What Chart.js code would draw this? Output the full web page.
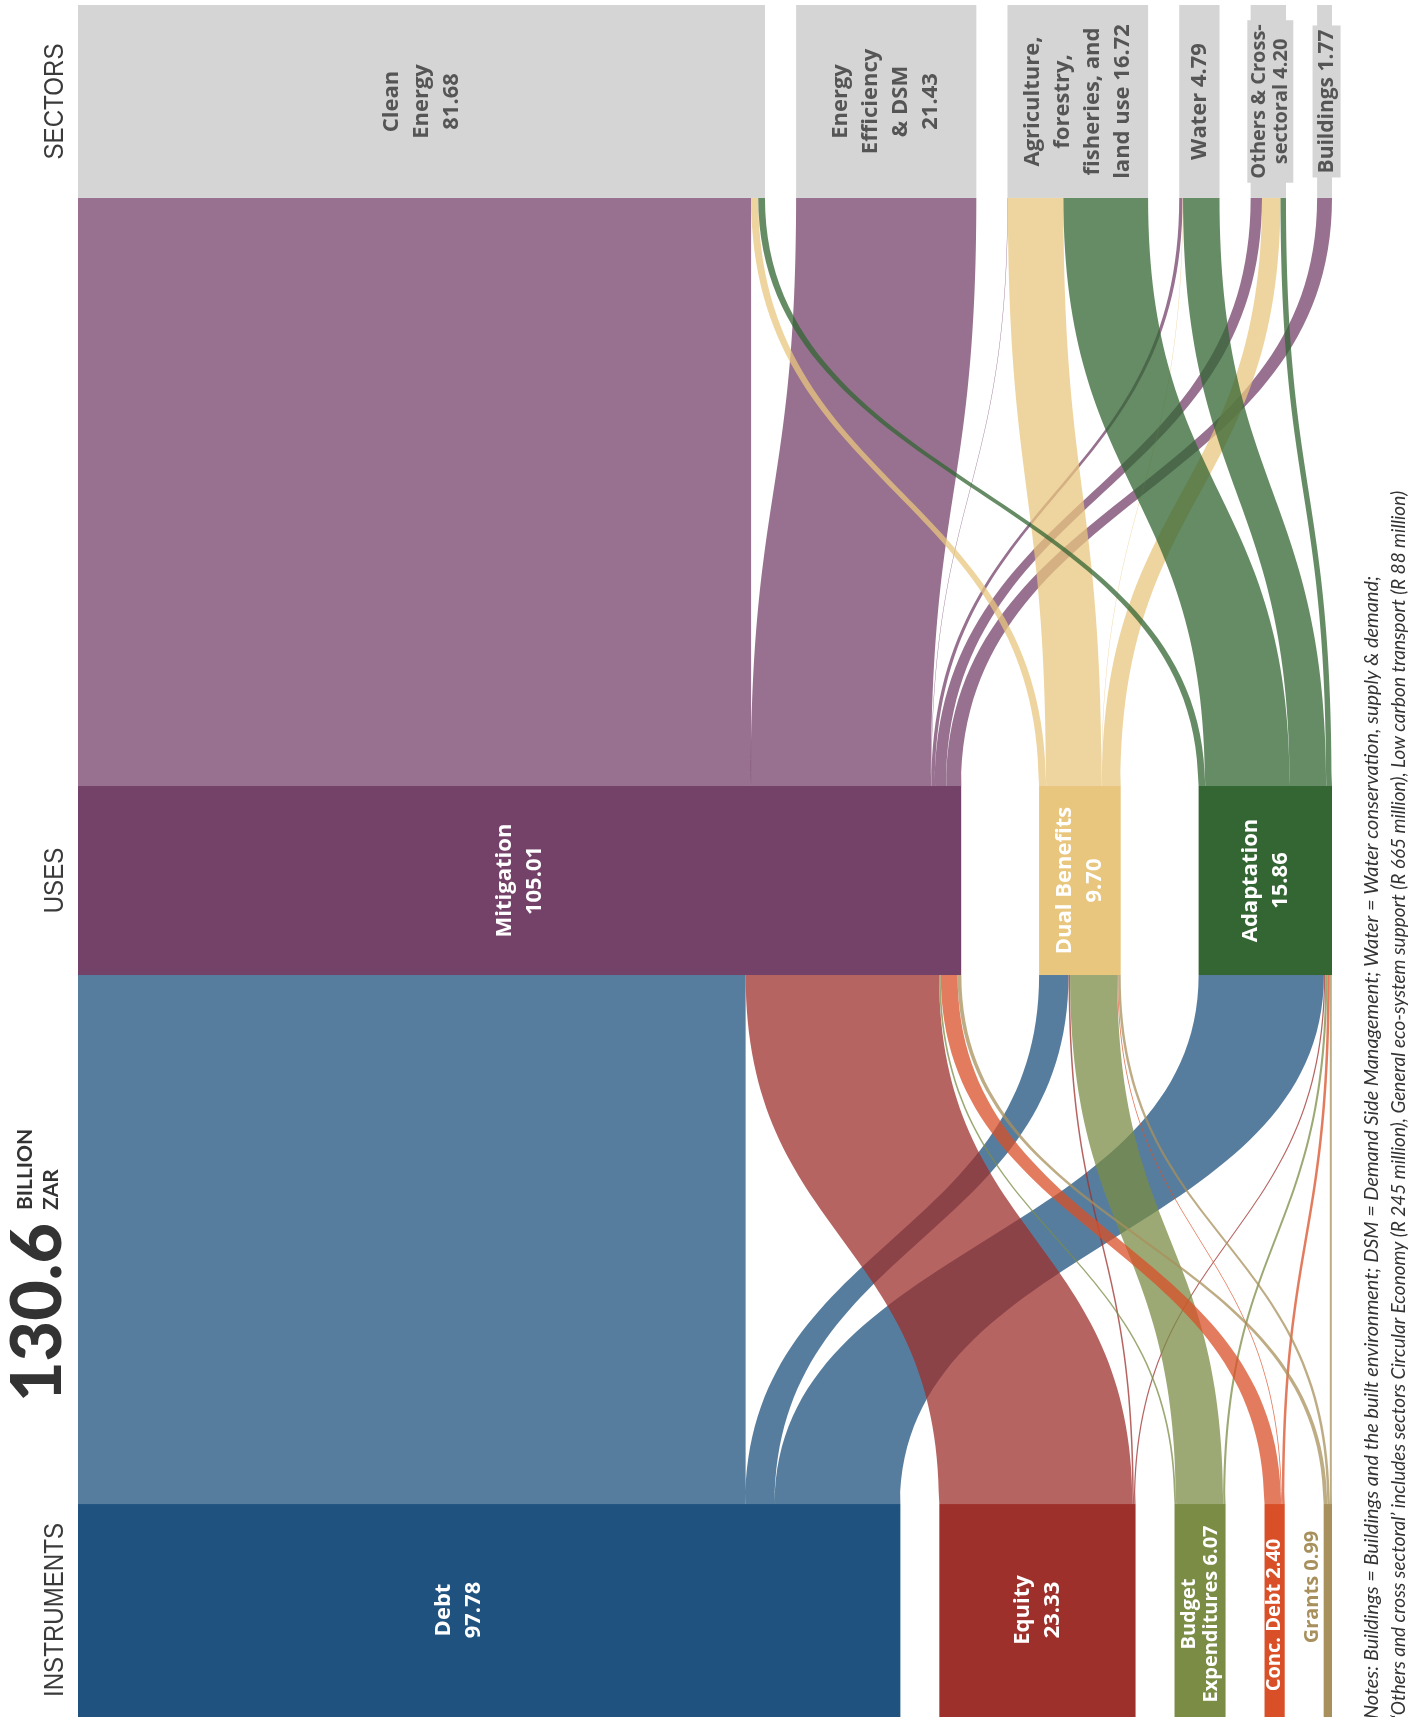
<!DOCTYPE html>
<html>
<head>
<meta charset="utf-8">
<title>Climate finance flows</title>
<script src="https://cdn.jsdelivr.net/npm/chart.js@4.4.1/dist/chart.umd.min.js"></script>
<style>
  html, body { margin: 0; padding: 0; background: #fff; }
  #wrap { position: relative; width: 1426px; height: 1717px; overflow: hidden; }
</style>
</head>
<body>
<div id="wrap"><canvas id="sankey" width="1426" height="1717"></canvas></div>
<script>
// --- data (billion ZAR) ---
const instruments = ['Debt', 'Equity', 'Budget Expenditures', 'Conc. Debt', 'Grants'];
const instrumentValues = [97.78, 23.33, 6.07, 2.40, 0.99];

const uses = ['Mitigation', 'Dual Benefits', 'Adaptation'];
const useValues = [105.01, 9.70, 15.86];

const sectors = ['Clean Energy', 'Energy Efficiency & DSM', 'Agriculture, forestry, fisheries, and land use',
                 'Water', 'Others & Cross-sectoral', 'Buildings'];
const sectorValues = [81.68, 21.43, 16.72, 4.79, 4.20, 1.77];

// instrument -> use  (Mitigation, Dual Benefits, Adaptation)
const fromDebt     = [79.38, 3.50, 14.90];
const fromEquity   = [23.00, 0.18, 0.15];
const fromBudget   = [0.20, 5.62, 0.25];
const fromConcDebt = [2.00, 0.10, 0.30];
const fromGrants   = [0.45, 0.30, 0.24];

// use -> sector  (Clean Energy, EE & DSM, Agriculture, Water, Others, Buildings)
const fromMitigation = [80.03, 21.43, 0.05, 0.40, 1.35, 1.77];
const fromDual       = [0.85, 0, 6.60, 0.05, 2.20, 0];
const fromAdaptation = [0.80, 0, 10.07, 4.34, 0.65, 0];

const stageLabels = ['SECTORS', 'USES', 'INSTRUMENTS'];
const totalValue = '130.6';

// label lines shown inside the nodes
const sectorLines = [['Clean', 'Energy'], ['Energy', 'Efficiency', '& DSM'], ['Agriculture,', 'forestry,', 'fisheries, and', 'land use'],
                     ['Water'], ['Others & Cross-', 'sectoral'], ['Buildings']];
const useLines = [['Mitigation'], ['Dual Benefits'], ['Adaptation']];
const instrumentLines = [['Debt'], ['Equity'], ['Budget', 'Expenditures'], ['Conc. Debt'], ['Grants']];

// --- layout / style ---
const X_MAX = 149.1;                 // value span incl. gaps
const BAND = {                       // y units (0..100, top to bottom)
  sector: [0, 11.27],
  use: [45.62, 56.66],
  instrument: [87.56, 101]
};
const instrumentColors = ['#1f527e', '#9e302c', '#7b8c45', '#d95028', '#a8905c'];
const useColors = ['#744169', '#e8c67e', '#336633'];
const sectorColor = '#d5d5d5';
const FLOW_ALPHA = 0.75;

function rgba(hex, a) {
  const n = parseInt(hex.slice(1), 16);
  return `rgba(${n >> 16},${(n >> 8) & 255},${n & 255},${a})`;
}

// spread nodes over the full width, equal gaps
function placeNodes(values) {
  const sum = values.reduce((a, b) => a + b, 0);
  const gap = (X_MAX - sum) / (values.length - 1);
  let x = 0;
  return values.map(v => {
    const node = { x0: x, x1: x + v, outPos: x, inPos: x };
    x += v + gap;
    return node;
  });
}

function buildLinks(srcNodes, tgtNodes, matrix, colors) {
  const links = [];
  matrix.forEach((row, i) => {
    row.forEach((v, j) => {
      if (!v) return;
      const s = srcNodes[i], t = tgtNodes[j];
      links.push({ s0: s.outPos, s1: s.outPos + v, t0: t.inPos, t1: t.inPos + v, color: colors[i] });
      s.outPos += v;
      t.inPos += v;
    });
  });
  return links;
}

function rotatedText(ctx, lines, cx, cy, font, lineH, color, bg) {
  ctx.save();
  ctx.translate(cx, cy);
  ctx.rotate(-Math.PI / 2);
  ctx.font = font;
  ctx.textAlign = 'center';
  ctx.textBaseline = 'middle';
  const h = lineH * lines.length;
  if (bg) {
    const w = Math.max(...lines.map(l => ctx.measureText(l).width));
    ctx.fillStyle = bg;
    ctx.fillRect(-w / 2 - 4, -h / 2 - 1, w + 8, h + 2);
  }
  ctx.fillStyle = color;
  lines.forEach((l, i) => ctx.fillText(l, 0, -h / 2 + lineH * (i + 0.5)));
  ctx.restore();
}

const sankeyPlugin = {
  id: 'sankey',
  afterDraw(chart) {
    const { ctx, scales: { x, y } } = chart;
    const px = v => x.getPixelForValue(v);
    const py = v => y.getPixelForValue(v);

    const instNodes = placeNodes(instrumentValues);
    const useNodes = placeNodes(useValues);
    const secNodes = placeNodes(sectorValues);

    const lowLinks = buildLinks(instNodes, useNodes,
      [fromDebt, fromEquity, fromBudget, fromConcDebt, fromGrants], instrumentColors);
    const highLinks = buildLinks(useNodes, secNodes,
      [fromMitigation, fromDual, fromAdaptation], useColors);

    function drawLinks(links, ySrc, yTgt) {
      const ys = py(ySrc), yt = py(yTgt), ym = (ys + yt) / 2;
      links.forEach(l => {
        ctx.beginPath();
        ctx.moveTo(px(l.s0), ys);
        ctx.bezierCurveTo(px(l.s0), ym, px(l.t0), ym, px(l.t0), yt);
        ctx.lineTo(px(l.t1), yt);
        ctx.bezierCurveTo(px(l.t1), ym, px(l.s1), ym, px(l.s1), ys);
        ctx.closePath();
        ctx.fillStyle = rgba(l.color, FLOW_ALPHA);
        ctx.fill();
      });
    }

    ctx.save();
    drawLinks(lowLinks, BAND.instrument[0], BAND.use[1]);
    drawLinks(highLinks, BAND.use[0], BAND.sector[1]);

    function drawNodes(nodes, band, colors) {
      nodes.forEach((n, i) => {
        ctx.fillStyle = Array.isArray(colors) ? colors[i] : colors;
        ctx.fillRect(px(n.x0), py(band[0]), px(n.x1) - px(n.x0), py(band[1]) - py(band[0]));
      });
    }
    drawNodes(secNodes, BAND.sector, sectorColor);
    drawNodes(useNodes, BAND.use, useColors);
    drawNodes(instNodes, BAND.instrument, instrumentColors);

    const mid = (n) => (px(n.x0) + px(n.x1)) / 2;

    // sector labels
    const secY = (py(BAND.sector[0]) + py(BAND.sector[1])) / 2;
    secNodes.forEach((n, i) => {
      const val = sectorValues[i].toFixed(2);
      let lines = sectorLines[i].slice();
      if (lines.length > 1 && i !== 4 && i !== 2) lines.push(val);
      else lines[lines.length - 1] += ' ' + val;
      if (i === 4) {
        rotatedText(ctx, lines, mid(n) + 2, secY, 'bold 20px "Open Sans"', 22, '#555', sectorColor);
      } else if (i === 5) {
        rotatedText(ctx, lines, mid(n) + 2, secY, 'bold 21px "Open Sans"', 26, '#555', sectorColor);
      } else {
        rotatedText(ctx, lines, mid(n), secY, 'bold 22px "Open Sans"', 30, '#555');
      }
    });

    // use labels
    const useY = (py(BAND.use[0]) + py(BAND.use[1])) / 2;
    useNodes.forEach((n, i) => {
      rotatedText(ctx, [...useLines[i], useValues[i].toFixed(2)], mid(n), useY,
        'bold 22px "Open Sans"', 30, '#fff');
    });

    // instrument labels
    const instY = 1610;
    instNodes.forEach((n, i) => {
      const val = instrumentValues[i].toFixed(2);
      if (i < 2) {
        rotatedText(ctx, [...instrumentLines[i], val], mid(n) - (i === 0 ? 30 : 0), instY,
          'bold 22px "Open Sans"', 30, '#fff');
      } else if (i === 2) {
        rotatedText(ctx, ['Budget', 'Expenditures ' + val], mid(n), instY + 4,
          'bold 20px "Open Sans"', 22, '#fff');
      } else if (i === 3) {
        rotatedText(ctx, [instrumentLines[i][0] + ' ' + val], mid(n), instY + 5,
          'bold 20px "Open Sans"', 22, '#fff');
      } else {
        rotatedText(ctx, [instrumentLines[i][0] + ' ' + val], mid(n) - 16, instY - 23,
          'bold 20px "Open Sans"', 22, instrumentColors[4]);
      }
    });

    // stage titles at the left (condensed look)
    const stageY = [secY, useY, instY];
    stageLabels.forEach((s, i) => {
      ctx.save();
      ctx.translate(55, stageY[i]);
      ctx.rotate(-Math.PI / 2);
      ctx.scale(0.86, 1);
      ctx.font = '28px "Liberation Sans", sans-serif';
      ctx.fillStyle = '#3a3a3a';
      ctx.textAlign = 'center';
      ctx.textBaseline = 'middle';
      ctx.fillText(s, 0, 0);
      ctx.restore();
    });

    // total
    ctx.save();
    ctx.translate(38, 1402);
    ctx.rotate(-Math.PI / 2);
    ctx.fillStyle = '#333';
    ctx.textBaseline = 'middle';
    ctx.textAlign = 'left';
    ctx.font = '900 70px Lato';
    ctx.fillText(totalValue, 0, 0);
    ctx.restore();
    ctx.save();
    ctx.translate(0, 1210);
    ctx.rotate(-Math.PI / 2);
    ctx.fillStyle = '#333';
    ctx.textBaseline = 'middle';
    ctx.textAlign = 'left';
    ctx.font = 'bold 21px Lato';
    ctx.fillText('BILLION', 0, 25);
    ctx.fillText('ZAR', 0, 51);
    ctx.restore();

    // notes
    ctx.save();
    ctx.translate(0, 1719);
    ctx.rotate(-Math.PI / 2);
    ctx.fillStyle = '#333';
    ctx.textBaseline = 'middle';
    ctx.textAlign = 'left';
    ctx.font = 'italic 19px Lato';
    ctx.fillText('\u2018Others and cross sectoral\u2019 includes sectors Circular Economy (R 245 million), General eco-system support (R 665 million), Low carbon transport (R 88 million)', 0, 1399);
    ctx.scale(1.048, 1);
    ctx.fillText('Notes: Buildings = Buildings and the built environment; DSM = Demand Side Management; Water = Water conservation, supply & demand;', 0, 1372);
    ctx.restore();

    ctx.restore();
  }
};

function start() {
  new Chart(document.getElementById('sankey'), {
    type: 'scatter',
    data: { datasets: [] },
    options: {
      responsive: false,
      animation: false,
      devicePixelRatio: 1,
      layout: { padding: { left: 78, right: 94, top: 5, bottom: 0 } },
      plugins: { legend: { display: false }, tooltip: { enabled: false } },
      scales: {
        x: { type: 'linear', min: 0, max: X_MAX, display: false },
        y: { type: 'linear', min: 0, max: 100, reverse: true, display: false }
      }
    },
    plugins: [sankeyPlugin]
  });
}

const fontsWanted = ['bold 22px "Open Sans"', '900 70px Lato', 'bold 21px Lato', 'italic 19px Lato',
                     '28px "Liberation Sans"'];
Promise.all(fontsWanted.map(f => document.fonts.load(f).catch(() => null))).then(start, start);
</script>
</body>
</html>
